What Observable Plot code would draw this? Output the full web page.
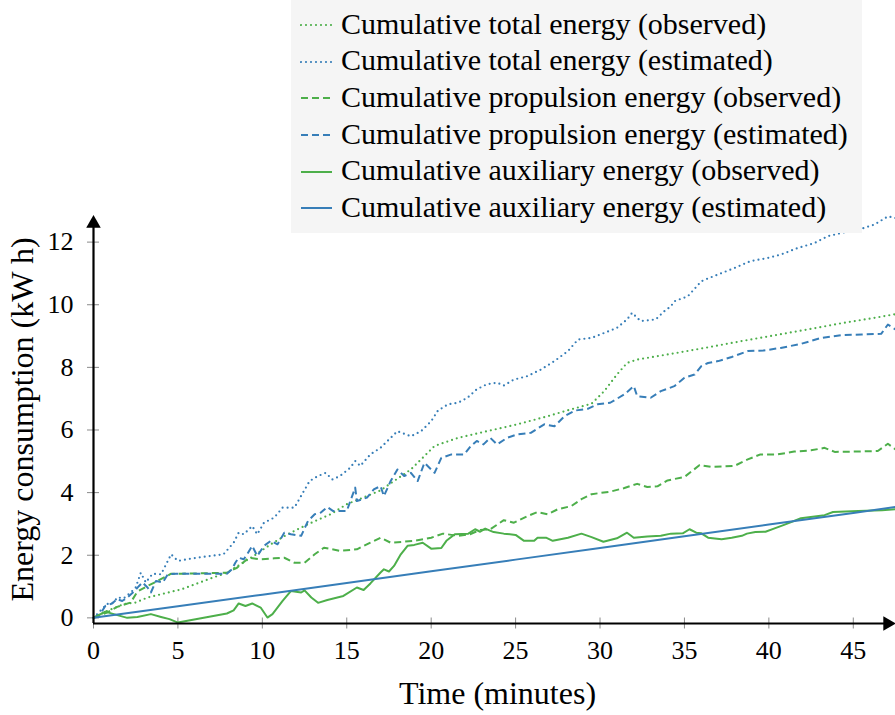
<!DOCTYPE html>
<html>
<head>
<meta charset="utf-8">
<script src="https://cdn.jsdelivr.net/npm/d3@7"></script>
<script src="https://cdn.jsdelivr.net/npm/@observablehq/plot@0.6"></script>
<style>
  body { margin: 0; background: #fff; }
  #chart { position: relative; width: 895px; height: 715px; font-family: "Liberation Serif", "Tinos", "Times New Roman", "DejaVu Serif", serif; }
  #legend {
    position: absolute; left: 291px; top: 0; width: 571px; height: 233px;
    background: #f5f5f5; box-sizing: border-box; padding-top: 6.6px;
  }
  .row { display: flex; align-items: center; height: 36.7px; }
  .row svg { margin-left: 9px; margin-right: 8px; flex: none; }
  .row span { font-size: 30px; line-height: 36.7px; color: #000; white-space: nowrap; position: relative; top: -1px; }
</style>
</head>
<body>
<div id="chart"></div>
<script>
// Time in minutes, energy in kWh — [minute, kWh] pairs per series
const totalObserved = [
  [0,0],[0.8,0.22],[1.8,0.44],[2.5,0.49],[3.2,0.65],[4.2,0.78],[5.2,0.91],[6.1,1.09],[7.1,1.29],
  [7.9,1.44],[8.7,1.71],[9.5,1.98],[10.5,2.35],[11.5,2.67],[12.7,2.99],[14.05,3.31],[15.0,3.63],
  [16.2,3.89],[17.0,4.07],[17.8,4.37],[18.8,4.74],[19.4,5.06],[20.2,5.49],[21.6,5.75],[23.3,5.96],
  [25.1,6.18],[26.9,6.44],[28.3,6.66],[29.5,6.84],[30.25,7.24],[31.0,7.77],[31.6,8.14],[32.2,8.25],
  [34.2,8.43],[36.4,8.64],[38.4,8.84],[40.3,9.02],[42.3,9.21],[44.3,9.41],[46.25,9.58],[47.5,9.7]
];
const totalEstimated = [
  [0,0],[0.4,0.22],[0.8,0.44],[1.2,0.49],[1.4,0.65],[1.8,0.63],[2.2,0.81],[2.5,0.97],[2.8,1.44],
  [3.1,1.13],[3.5,1.41],[4.0,1.39],[4.3,1.71],[4.6,2.03],[4.8,1.92],[5.0,1.82],[6.1,1.92],[7.7,2.03],
  [8.3,2.40],[8.6,2.72],[8.9,2.67],[9.4,2.93],[9.7,2.67],[10.1,3.04],[10.7,3.20],[11.2,3.52],
  [11.9,3.52],[12.8,4.37],[13.3,4.53],[13.75,4.63],[14.15,4.42],[14.6,4.53],[15.2,4.79],[15.5,5.01],
  [15.8,4.85],[16.4,5.22],[17.0,5.43],[18.0,5.96],[18.8,5.80],[19.4,5.96],[20.0,6.28],[20.4,6.62],
  [21.0,6.82],[21.6,6.87],[22.15,7.03],[22.7,7.30],[23.3,7.46],[23.9,7.51],[24.3,7.42],[24.9,7.61],
  [25.7,7.72],[26.5,7.93],[27.3,8.20],[28.1,8.52],[28.7,8.89],[29.5,8.94],[30.25,9.10],[31.0,9.26],
  [31.6,9.53],[31.9,9.74],[32.4,9.48],[33.3,9.53],[33.8,9.79],[34.2,9.95],[34.4,10.11],[35.2,10.27],
  [36.0,10.75],[36.4,10.84],[37.2,11.01],[37.95,11.17],[38.9,11.39],[39.9,11.49],[40.7,11.60],
  [41.7,11.81],[42.7,11.97],[43.5,12.19],[44.3,12.29],[45.5,12.43],[46.25,12.56],[47.05,12.82],[47.5,12.77]
];
const propulsionObserved = [
  [0,0],[0.8,0.17],[1.4,0.35],[2.2,0.49],[2.6,0.84],[3.2,1.02],[3.8,1.18],[4.6,1.41],[5.2,1.41],
  [7.9,1.44],[8.5,1.60],[9.2,1.92],[9.9,1.87],[10.7,1.90],[11.3,1.92],[11.9,1.76],[12.5,1.76],
  [13.1,2.03],[13.65,2.24],[14.6,2.14],[15.6,2.19],[16.4,2.40],[17.0,2.56],[17.6,2.40],[19.0,2.46],
  [20.0,2.56],[20.7,2.69],[21.6,2.62],[22.3,2.67],[22.9,2.81],[23.5,2.83],[24.3,3.12],[24.9,3.04],
  [25.7,3.25],[26.3,3.38],[26.9,3.31],[27.5,3.47],[28.3,3.57],[28.9,3.79],[29.5,3.95],[30.6,4.03],
  [31.4,4.14],[32.2,4.28],[32.8,4.18],[33.4,4.20],[34.0,4.39],[35.0,4.50],[35.9,4.88],[36.6,4.82],
  [37.95,4.85],[38.75,5.06],[39.5,5.22],[40.5,5.22],[41.5,5.31],[42.5,5.35],[43.3,5.43],[43.9,5.30],
  [45.1,5.31],[46.45,5.33],[47.05,5.56],[47.5,5.38]
];
const propulsionEstimated = [
  [0,0],[0.4,0.12],[0.7,0.38],[1.1,0.46],[1.4,0.60],[1.7,0.54],[2.0,0.65],[2.4,0.84],[2.7,1.02],
  [2.9,1.13],[3.2,0.97],[3.4,0.81],[3.7,1.18],[4.1,1.13],[4.4,1.39],[4.9,1.41],[7.9,1.41],[8.2,1.55],
  [8.4,1.76],[8.6,1.92],[8.9,1.87],[9.1,2.03],[9.4,2.30],[9.7,1.98],[10.1,2.30],[10.5,2.46],[10.9,2.35],
  [11.3,2.72],[11.7,2.67],[12.3,2.62],[12.7,3.09],[13.1,3.31],[13.45,3.36],[13.85,3.54],[14.2,3.41],
  [15.0,3.41],[15.5,4.16],[15.6,3.73],[16.2,3.84],[16.6,4.10],[17.0,4.21],[17.2,3.89],[17.6,4.37],
  [18.0,4.74],[18.4,4.53],[18.8,4.63],[19.2,4.37],[19.6,4.95],[20.2,4.63],[20.6,5.11],[21.2,5.22],
  [21.95,5.22],[22.35,5.49],[22.7,5.65],[23.1,5.54],[23.5,5.75],[23.9,5.54],[24.5,5.75],[25.1,5.86],
  [25.9,5.91],[26.7,6.18],[27.3,6.12],[27.9,6.44],[28.5,6.62],[29.3,6.68],[29.85,6.82],[30.6,6.87],
  [31.45,7.14],[32.0,7.40],[32.2,7.08],[33.0,7.03],[33.6,7.24],[34.4,7.40],[35.0,7.67],[35.6,7.77],
  [36.0,8.04],[36.4,8.14],[37.0,8.20],[37.8,8.33],[38.75,8.52],[39.7,8.54],[40.7,8.62],[41.9,8.75],
  [43.1,8.94],[44.3,9.03],[45.5,9.05],[46.65,9.07],[47.05,9.37],[47.5,9.21]
];
const auxiliaryObserved = [
  [0,0],[0.7,0.2],[1.2,0.12],[2.0,0.0],[2.6,0.03],[3.4,0.12],[4.0,0.03],[4.5,-0.04],[5.0,-0.15],
  [7.9,0.14],[8.3,0.24],[8.6,0.46],[9.0,0.38],[9.4,0.46],[9.9,0.33],[10.3,0.01],[10.6,0.12],[11.2,0.54],
  [11.7,0.86],[12.3,0.81],[12.5,0.88],[12.9,0.65],[13.3,0.48],[13.85,0.57],[14.8,0.70],[15.6,0.97],
  [16.0,0.89],[16.4,1.10],[17.0,1.45],[17.2,1.55],[17.5,1.48],[17.8,1.66],[18.2,2.03],[18.6,2.30],
  [19.0,2.33],[19.5,2.40],[20.0,2.21],[20.6,2.23],[20.9,2.46],[21.4,2.67],[22.2,2.69],[22.6,2.83],
  [22.9,2.75],[23.2,2.85],[23.7,2.74],[24.3,2.69],[25.0,2.65],[25.5,2.46],[26.1,2.46],[26.3,2.56],
  [26.8,2.56],[27.2,2.46],[28.1,2.56],[28.9,2.69],[29.5,2.58],[30.2,2.43],[31.0,2.54],[31.6,2.72],
  [32.0,2.56],[32.8,2.60],[33.6,2.62],[34.2,2.69],[34.9,2.70],[35.3,2.83],[35.7,2.72],[36.0,2.70],
  [36.4,2.56],[37.2,2.51],[37.8,2.56],[38.4,2.62],[38.7,2.69],[39.2,2.74],[39.8,2.75],[40.3,2.85],
  [40.9,2.97],[41.9,3.18],[43.3,3.28],[43.8,3.38],[45.3,3.41],[46.7,3.44],[47.5,3.47]
];
const auxiliaryEstimated = [
  [0,0],[5,0.37],[10,0.74],[15,1.11],[20,1.49],[25,1.86],[30,2.23],[35,2.61],[40,2.98],[45,3.35],[47.5,3.54]
];

const xTicks = [0, 5, 10, 15, 20, 25, 30, 35, 40, 45];
const yTicks = [0, 2, 4, 6, 8, 10, 12];
const xDomain = [0, 47.5];
const yDomain = [-0.18, 12.85];

const green = "#4daf4a";
const blue = "#377eb8";
// dotted lines are drawn as round dots, dashed as short dashes
const dotted = "0,5";
const dashed = "7,4";
const serifStack = "'Liberation Serif', Tinos, 'Times New Roman', 'DejaVu Serif', serif";

const series = [
  {label: "Cumulative total energy (observed)", data: totalObserved, color: green, dash: dotted},
  {label: "Cumulative total energy (estimated)", data: totalEstimated, color: blue, dash: dotted},
  {label: "Cumulative propulsion energy (observed)", data: propulsionObserved, color: green, dash: dashed},
  {label: "Cumulative propulsion energy (estimated)", data: propulsionEstimated, color: blue, dash: dashed},
  {label: "Cumulative auxiliary energy (observed)", data: auxiliaryObserved, color: green, dash: null},
  {label: "Cumulative auxiliary energy (estimated)", data: auxiliaryEstimated, color: blue, dash: null}
];

const chart = Plot.plot({
  width: 895,
  height: 715,
  marginTop: 215,
  marginRight: 0,
  marginBottom: 92,
  marginLeft: 93,
  style: {fontFamily: serifStack, fontSize: "26px", color: "#000", background: "#fff"},
  x: {domain: xDomain},
  y: {domain: yDomain},
  marks: [
    // gray tick marks crossing the axis lines
    Plot.axisX(xTicks, {tickSize: 11, dy: -5.5, tickFormat: () => "", stroke: "#8a8a8a", label: null}),
    Plot.axisY(yTicks, {tickSize: 12, dx: 6, tickFormat: () => "", stroke: "#8a8a8a", label: null}),
    // tick labels
    Plot.axisX(xTicks, {tickSize: 0, tickPadding: 17, fontSize: 26, fontFamily: serifStack, label: null}),
    Plot.axisY(yTicks, {tickSize: 0, tickPadding: 20, fontSize: 26, fontFamily: serifStack, label: null}),
    // data series
    ...series.map(s => Plot.line(s.data, {
      x: d => d[0], y: d => d[1], stroke: s.color, strokeWidth: s.dash === dotted ? 2.2 : 2,
      strokeDasharray: s.dash, strokeLinecap: s.dash === dotted ? "round" : "butt", strokeLinejoin: "round"
    })),
    // axis lines with arrowheads
    Plot.ruleY([yDomain[0]], {stroke: "#000", strokeWidth: 2.2, insetRight: 10}),
    Plot.ruleX([xDomain[0]], {stroke: "#000", strokeWidth: 2.2, insetTop: 10}),
    Plot.dot([0], {x: xDomain[1], y: yDomain[0], symbol: "triangle", rotate: 90, r: 5.4, fill: "#000", stroke: null, dx: -8}),
    Plot.dot([0], {x: xDomain[0], y: yDomain[1], symbol: "triangle", rotate: 0, r: 5.4, fill: "#000", stroke: null, dy: 8}),
    // axis titles
    Plot.text(["Time (minutes)"], {frameAnchor: "bottom", dy: 70, dx: 3, fontSize: 32, fontFamily: serifStack, textAnchor: "middle", lineAnchor: "middle"}),
    Plot.text(["Energy consumption (kW h)"], {frameAnchor: "left", dx: -71, rotate: -90, fontSize: 32, fontFamily: serifStack, textAnchor: "middle", lineAnchor: "middle"})
  ]
});

const container = document.getElementById("chart");
container.appendChild(chart);

// legend box drawn over the upper right of the plot
const legend = document.createElement("div");
legend.id = "legend";
for (const s of series) {
  const row = document.createElement("div");
  row.className = "row";
  const sample = d3.create("svg").attr("width", 33).attr("height", 10);
  sample.append("line")
    .attr("x1", 1).attr("x2", 32).attr("y1", 5).attr("y2", 5)
    .attr("stroke", s.color).attr("stroke-width", s.dash === dotted ? 2.2 : 2)
    .attr("stroke-linecap", s.dash === dotted ? "round" : "butt")
    .attr("stroke-dasharray", s.dash);
  row.appendChild(sample.node());
  const text = document.createElement("span");
  text.textContent = s.label;
  row.appendChild(text);
  legend.appendChild(row);
}
container.appendChild(legend);
</script>
</body>
</html>
